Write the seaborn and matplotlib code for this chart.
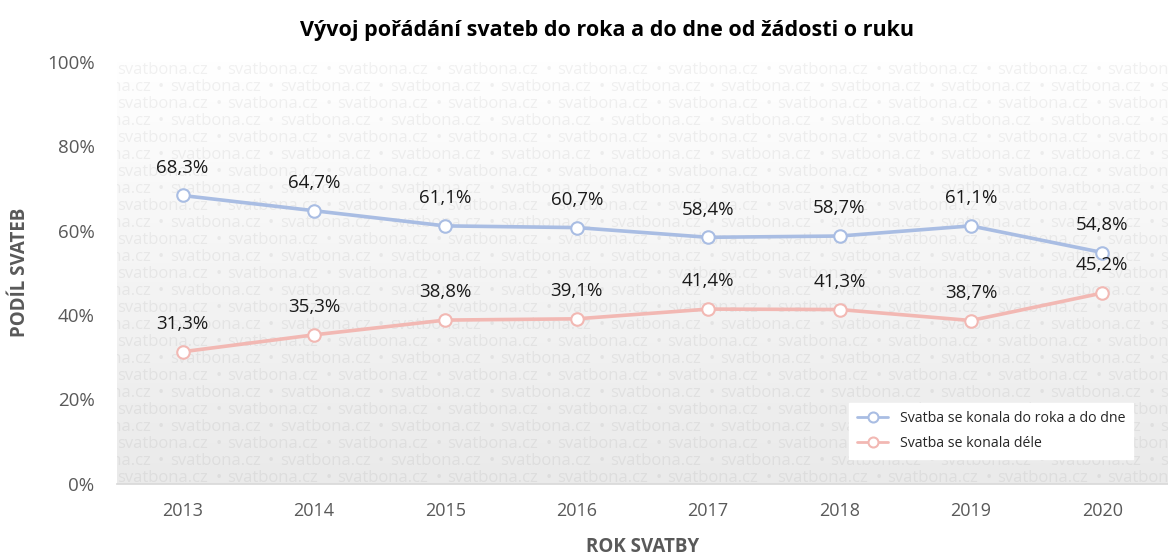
import numpy as np
import pandas as pd
import seaborn as sns
from matplotlib import pyplot as plt
from matplotlib.colors import LinearSegmentedColormap

years = [2013, 2014, 2015, 2016, 2017, 2018, 2019, 2020]
do_roka = [68.3, 64.7, 61.1, 60.7, 58.4, 58.7, 61.1, 54.8]
dele = [31.3, 35.3, 38.8, 39.1, 41.4, 41.3, 38.7, 45.2]

label_do_roka = "Svatba se konala do roka a do dne"
label_dele = "Svatba se konala déle"
y_ticks = [0, 20, 40, 60, 80, 100]

TITLE = "Vývoj pořádání svateb do roka a do dne od žádosti o ruku"
WATERMARK = "svatbona.cz"

BLUE = "#A9BDE3"
PINK = "#F2B8B3"
GRAY_TEXT = "#595959"


def fmt_pct(v):
    return f"{v:.1f}%".replace(".", ",")


def main():
    sns.set_theme(style="white")
    plt.rcParams["font.family"] = ["Open Sans", "DejaVu Sans"]

    df = pd.DataFrame({"rok": years, "do_roka": do_roka, "dele": dele})

    fig = plt.figure(figsize=(11.68, 5.55), dpi=100)
    ax = fig.add_axes([0.100, 0.128, 0.900, 0.761])

    # background gradient + watermark (one text per word)
    cmap = LinearSegmentedColormap.from_list("bg", ["#FFFFFF", "#EAEAEA"])
    grad = np.linspace(0, 1, 256).reshape(-1, 1)
    ax.imshow(grad, cmap=cmap, extent=[0, 1, 0, 1], transform=ax.transAxes,
              aspect="auto", zorder=0, vmin=0, vmax=1)
    period = 110 / 1051
    bullet_off = 101.5 / 1051
    row_step = 17 / 422
    for r in range(26):
        yy = 0.986 - r * row_step
        x0 = 0.0 if r % 2 == 0 else -period / 2 - 0.002
        for k in range(11):
            xx = x0 + k * period
            ax.text(xx, yy, WATERMARK, transform=ax.transAxes, fontsize=12,
                    color="black", alpha=0.055, va="center_baseline", ha="left",
                    clip_on=True, zorder=1)
            ax.text(xx + bullet_off, yy, "•", transform=ax.transAxes, fontsize=12,
                    color="black", alpha=0.055, va="center_baseline", ha="center",
                    clip_on=True, zorder=1)

    line_kw = dict(marker="o", markersize=9, markerfacecolor="white",
                   markeredgewidth=1.5, linewidth=2.6, zorder=3)
    sns.lineplot(data=df, x="rok", y="do_roka", color=BLUE, markeredgecolor=BLUE,
                 label=label_do_roka, ax=ax, **line_kw)
    sns.lineplot(data=df, x="rok", y="dele", color=PINK, markeredgecolor=PINK,
                 label=label_dele, ax=ax, **line_kw)

    for series in (do_roka, dele):
        for x, v in zip(years, series):
            ax.annotate(fmt_pct(v), (x, v), xytext=(0, 20), textcoords="offset points",
                        ha="center", va="center", fontsize=13.5, color="#1a1a1a", zorder=4)

    ax.set_xlim(years[0] - 0.5, years[-1] + 0.5)
    ax.set_ylim(0, 100)
    ax.set_xticks(years)
    ax.set_yticks(y_ticks)
    ax.set_yticklabels([f"{t}%" for t in y_ticks])
    ax.tick_params(axis="y", labelsize=13.5, labelcolor=GRAY_TEXT, pad=16, length=0)
    ax.tick_params(axis="x", labelsize=13, labelcolor=GRAY_TEXT, pad=13, length=0)

    for side in ("top", "left", "right"):
        ax.spines[side].set_visible(False)
    ax.spines["bottom"].set_color("#D9D9D9")

    ax.set_xlabel("ROK SVATBY", fontsize=13.5, fontweight="bold", color=GRAY_TEXT, labelpad=12)
    ax.set_ylabel("PODÍL SVATEB", fontsize=13.5, fontweight="bold", color=GRAY_TEXT, labelpad=12)
    fig.text(0.52, 0.945, TITLE, ha="center", va="center", fontsize=15.5, fontweight="bold", color="black")

    leg = ax.legend(loc="lower left", bbox_to_anchor=(0.69, 0.042), frameon=True,
                    fontsize=10.2, handlelength=2.2, labelspacing=0.75, borderpad=0.55,
                    markerscale=0.8)
    for h in leg.get_lines():
        h.set_linewidth(2.0)
    leg.get_frame().set_facecolor("white")
    leg.get_frame().set_edgecolor("white")
    leg.get_frame().set_alpha(1)
    leg.get_frame().set_boxstyle("square", pad=0)
    leg.set_zorder(5)

    fig.savefig("out.png", dpi=100)
    plt.close(fig)


if __name__ == "__main__":
    main()
